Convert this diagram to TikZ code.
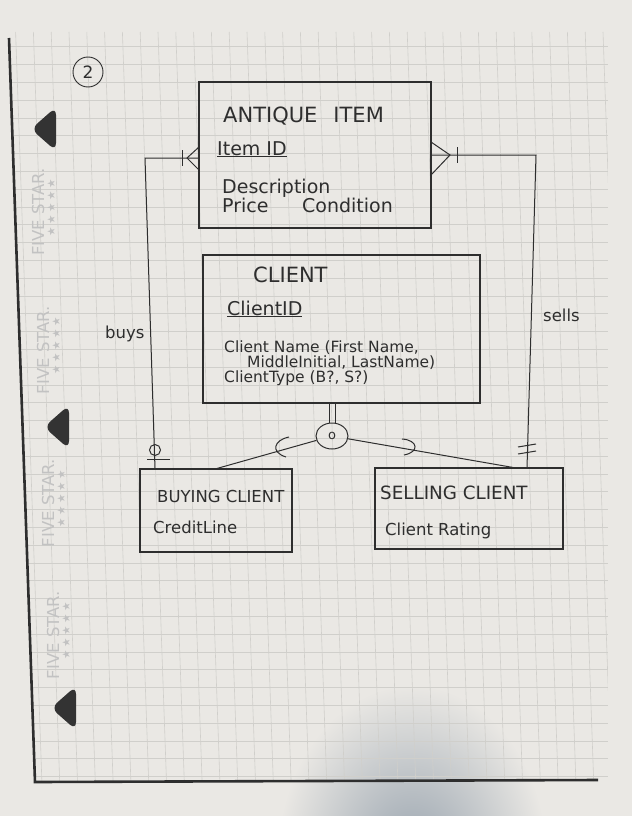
\documentclass[tikz,border=0pt]{standalone}
\usepackage{fontspec}
\setmainfont{DejaVu Sans}
\newfontfamily\starfont{DejaVu Sans}
\usetikzlibrary{shapes.geometric}
\definecolor{Paper}{HTML}{EAE8E4}
\definecolor{GridGray}{HTML}{D0CFCB}
\definecolor{Ink}{HTML}{2E2E2E}
\definecolor{Mark}{HTML}{C2C2C2}
\definecolor{Hole}{HTML}{333333}
\definecolor{Shadow}{HTML}{98A3AE}

\begin{document}
\begin{tikzpicture}[x=1pt,y=-1pt,
    entity/.style={draw=Ink,line width=1.1pt,inner sep=0pt},
    enttitle/.style={anchor=base west,inner sep=0pt,text=Ink,
      font=\fontsize{21}{24}\selectfont},
    subtitle/.style={anchor=base west,inner sep=0pt,text=Ink,
      font=\fontsize{16.5}{20}\selectfont},
    keyattr/.style={anchor=base west,inner sep=0pt,text=Ink,
      font=\fontsize{19}{22}\selectfont},
    attr/.style={anchor=base west,inner sep=0pt,text=Ink,
      font=\fontsize{16.5}{19}\selectfont},
    clattr/.style={anchor=base west,inner sep=0pt,text=Ink,
      font=\fontsize{15.5}{18}\selectfont},
    link/.style={draw=Ink,line width=1pt},
    wmark/.style={rotate=90,inner sep=0pt,text=Mark,
      font=\fontsize{16.5}{18}\selectfont}]

  % paper, shadow and grid
  \useasboundingbox (0,0) rectangle (632,816);
  \fill[Paper] (0,0) rectangle (632,816);
  \shade[inner color=Shadow,outer color=Paper] (412,860) ellipse[x radius=135,y radius=175];
  \begin{scope}
    \clip (9,32) -- (608,32) -- (608,781) -- (35,782) -- cycle;
    \foreach \gx in {0,...,34}
      \draw[GridGray,line width=0.6pt] (15.6+17.8*\gx,32) -- (41.9+17.8*\gx,782);
    \foreach \gy in {0,...,42}
      \draw[GridGray,line width=0.6pt] (9,28.8+17.8*\gy) -- (608,28.8+17.8*\gy);
  \end{scope}
  \draw[Ink,line width=2.6pt] (9,38) -- (35,782) -- (598,780);

  % binder holes and watermarks
  \foreach \hx/\hy in {56/129,69/427,76/708}
    \fill[Hole,rounded corners=8pt] (\hx,\hy-22) -- (\hx-25,\hy) -- (\hx,\hy+22) -- cycle;
  \foreach \wx/\wy in {38/212,43/350,48/503,53/635}{
    \node[wmark] at (\wx,\wy) {FIVE STAR.};
    \node[wmark,font=\starfont\fontsize{10.5}{12}\selectfont] at (\wx+13,\wy-4)
      {★\hspace{2.5pt}★\hspace{2.5pt}★\hspace{2.5pt}★\hspace{2.5pt}★};
  }

  % page number
  \node[draw=Ink,circle,line width=0.9pt,minimum size=30pt,inner sep=0pt,text=Ink,
        font=\fontsize{17}{19}\selectfont] (pagenum) at (88,72) {2};

  % entities
  \node[entity,minimum width=232pt,minimum height=146pt] (item) at (315,155) {};
  \node[enttitle] (itemT) at (223,122) {ANTIQUE\hspace{16pt}ITEM};
  \node[keyattr] (itemId) at (217,155) {\underline{Item ID}};
  \node[keyattr] (itemDesc) at (222,193) {Description};
  \node[keyattr] (itemPrice) at (222,212) {Price};
  \node[keyattr] (itemCond) at (302,212) {Condition};

  \node[entity,minimum width=277pt,minimum height=148pt] (client) at (341.5,329) {};
  \node[enttitle] (clientT) at (253,282) {CLIENT};
  \node[keyattr] (clientId) at (227,315) {\underline{ClientID}};
  \node[clattr] (clientName) at (224,352) {Client Name (First Name,};
  \node[clattr] (clientName2) at (247,367) {MiddleInitial, LastName)};
  \node[clattr] (clientType) at (224,382) {ClientType (B?, S?)};

  \node[entity,minimum width=152pt,minimum height=83pt] (buying) at (216,510.5) {};
  \node[subtitle] (buyingT) at (157,502) {BUYING CLIENT};
  \node[attr] (buyingCredit) at (153,533) {CreditLine};

  \node[entity,minimum width=188pt,minimum height=81pt] (selling) at (469,508.5) {};
  \node[subtitle,font=\fontsize{18.3}{21}\selectfont] (sellingT) at (380,499) {SELLING CLIENT};
  \node[attr] (sellingRating) at (385,535) {Client Rating};

  % buys
  \coordinate (buysTop) at (145,158);
  \coordinate (buysBot) at (155,469);
  \draw[link] (item.west |- buysTop) -- (buysTop) -- (buysBot);
  \draw[link] (199,147) -- (187,158) -- (199,170);
  \draw[link] (182,150) -- (182,166);
  \draw[link] (155,450) circle[radius=5.5];
  \draw[link] (147,459) -- (170,459);
  \node[attr] (buysL) at (105,338) {buys};

  % sells
  \coordinate (sellsTop) at (536,155);
  \coordinate (sellsBot) at (527,468);
  \draw[link] (item.east |- sellsTop) -- (sellsTop) -- (sellsBot);
  \draw[link] (431,142) -- (450,155) -- (431,175);
  \draw[link] (457,147) -- (457,163);
  \draw[link] (518,447) -- (536,444);
  \draw[link] (518,454) -- (536,451);
  \node[attr] (sellsL) at (543,321) {sells};

  % specialization
  \node[draw=Ink,ellipse,line width=1pt,minimum width=32pt,minimum height=26pt,
        inner sep=0pt,text=Ink,font=\fontsize{13}{14}\selectfont] (isa) at (332,436) {o};
  \draw[link] ([xshift=-3pt]isa.north) -- ([xshift=-3pt]isa.north |- client.south);
  \draw[link] ([xshift=3pt]isa.north) -- ([xshift=3pt]isa.north |- client.south);
  \draw[link] (isa) -- ([xshift=1pt]buying.north);
  \draw[link] (isa) -- ([xshift=44pt]selling.north);
  \draw[link] (289,437) .. controls (274,440) and (270,452) .. (286,457);
  \draw[link] (402,439) .. controls (418,440) and (420,452) .. (404,455);
\end{tikzpicture}
\end{document}
